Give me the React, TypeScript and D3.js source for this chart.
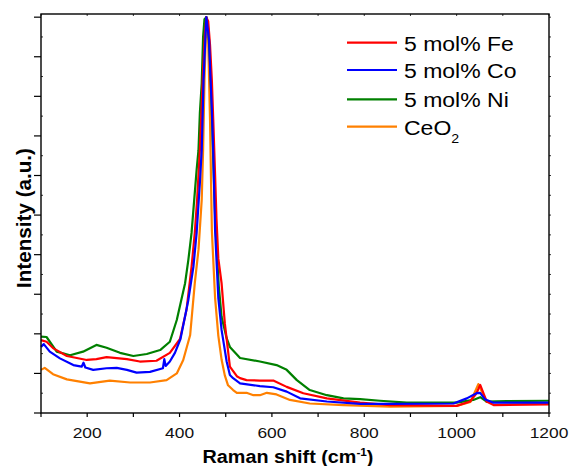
import React from 'react';
import * as d3 from 'd3';

// Raman spectra, intensity normalized so the F2g peak = 10
const fe: [number, number][] = [[100,1.84],[112,1.80],[126,1.64],[156,1.44],[199,1.34],[220,1.36],[242,1.41],[286,1.36],[314,1.30],[350,1.32],[379,1.52],[401,1.87],[415,2.60],[426,3.69],[433,4.55],[438,5.38],[444,6.64],[451,8.66],[455,9.6],[458,10.0],[462,9.9],[466,9.3],[470,8.4],[473,7.4],[477,6.0],[480,4.9],[484,3.9],[491,3.28],[498,2.27],[509,1.17],[524,0.93],[531,0.88],[545,0.83],[574,0.82],[603,0.82],[632,0.66],[668,0.50],[719,0.37],[791,0.26],[856,0.20],[1000,0.18],[1029,0.29],[1043,0.50],[1051,0.71],[1058,0.50],[1065,0.29],[1080,0.20],[1200,0.22]];
const co: [number, number][] = [[100,1.67],[106,1.74],[119,1.55],[141,1.38],[170,1.21],[188,1.17],[192,1.27],[196,1.15],[213,1.09],[242,1.13],[264,1.14],[286,1.09],[307,1.02],[336,1.04],[364,1.13],[367,1.36],[370,1.19],[379,1.30],[390,1.52],[402,1.87],[419,2.85],[430,3.69],[437,4.55],[444,5.81],[448,6.64],[452,8.41],[458,10.0],[464,9.42],[466,8.74],[470,7.65],[473,6.57],[477,4.6],[484,2.9],[491,2.1],[502,1.3],[509,0.96],[516,0.88],[531,0.75],[574,0.68],[603,0.65],[632,0.54],[661,0.37],[719,0.29],[791,0.23],[856,0.23],[993,0.24],[1022,0.37],[1043,0.50],[1051,0.51],[1061,0.35],[1080,0.26],[1200,0.26]];
const ni: [number, number][] = [[100,1.93],[112,1.92],[134,1.55],[163,1.46],[191,1.55],[220,1.72],[242,1.65],[271,1.52],[300,1.44],[329,1.49],[358,1.59],[379,1.80],[394,2.35],[412,3.28],[419,3.86],[426,4.55],[430,5.13],[437,6.14],[441,6.64],[444,7.58],[448,8.33],[451,9.5],[454,9.95],[458,10.0],[462,9.7],[466,8.9],[470,7.6],[473,6.4],[477,5.0],[480,4.2],[485,3.2],[491,2.43],[502,1.89],[509,1.67],[531,1.39],[574,1.30],[610,1.21],[632,1.09],[654,0.83],[682,0.58],[719,0.45],[755,0.37],[791,0.35],[834,0.31],[892,0.26],[1000,0.26],[1036,0.33],[1051,0.40],[1065,0.29],[1108,0.30],[1200,0.31]];
const ceo2: [number, number][] = [[100,1.09],[108,1.14],[126,0.98],[156,0.85],[206,0.75],[249,0.82],[293,0.77],[336,0.77],[372,0.83],[394,1.00],[408,1.34],[423,1.97],[433,3.28],[441,4.12],[448,5.38],[451,6.64],[454,8.41],[458,10.0],[462,9.42],[466,7.40],[470,4.6],[477,2.9],[484,1.95],[491,1.35],[498,0.95],[505,0.70],[516,0.58],[524,0.51],[545,0.51],[560,0.45],[574,0.45],[589,0.51],[610,0.47],[639,0.33],[682,0.24],[755,0.20],[856,0.16],[1000,0.18],[1030,0.28],[1047,0.73],[1055,0.53],[1065,0.28],[1200,0.24]];

const legendNames = ['5 mol% Fe', '5 mol% Co', '5 mol% Ni', 'CeO'];
const xTickLabels = [200, 400, 600, 800, 1000, 1200];

const W = 570, H = 466;
const x = d3.scaleLinear().domain([100, 1200]).range([41, 549]);
const y = d3.scaleLinear().domain([0, 10.08]).range([413, 14]);

const line = d3.line<[number, number]>().x(d => x(d[0])).y(d => y(d[1]));

const series = [
  { data: ceo2, color: '#ff8000' },
  { data: ni, color: '#008000' },
  { data: fe, color: '#ff0000' },
  { data: co, color: '#0000ff' },
];
const legendColors = ['#ff0000', '#0000ff', '#008000', '#ff8000'];

const font = 'Arial, "Liberation Sans", sans-serif';

function Stretch({ tx, ty, sx, children }: { tx: number; ty: number; sx: number; children: React.ReactNode }) {
  return <g transform={`translate(${tx},${ty}) scale(${sx},1)`}>{children}</g>;
}

export default function App() {
  const xt = d3.range(100, 1201, 100);
  const yMajor = d3.range(0, 11, 1);
  const yMinor = d3.range(0.5, 10, 1);
  const [x0, x1] = x.range();
  const [y0, y1] = y.range();

  return (
    <svg width={W} height={H} style={{ position: 'absolute', left: 0, top: 0, background: '#fff' }}>
      <g fill="none" strokeWidth={2.2} strokeLinejoin="round">
        {series.map((s, i) => (
          <path key={i} d={line(s.data) || ''} stroke={s.color} />
        ))}
      </g>

      {/* frame */}
      <rect x={x0} y={y1} width={x1 - x0} height={y0 - y1} fill="none" stroke="#000" strokeWidth={1.4} />

      {/* x ticks */}
      <g stroke="#000" strokeWidth={1.2}>
        {xt.map(t => (
          <line key={'b' + t} x1={x(t)} x2={x(t)} y1={y0} y2={y0 + 4} />
        ))}
        {xt.map(t => (
          <line key={'t' + t} x1={x(t)} x2={x(t)} y1={y1} y2={y1 + 2} strokeWidth={0.8} />
        ))}
        {yMajor.map(t => (
          <line key={'l' + t} x1={x0 - 7} x2={x0} y1={y(t)} y2={y(t)} />
        ))}
        {yMinor.map(t => (
          <line key={'m' + t} x1={x0} x2={x0 + 2} y1={y(t)} y2={y(t)} strokeWidth={0.8} />
        ))}
        {d3.range(0, 10.5, 0.5).map(t => (
          <line key={'r' + t} x1={x1} x2={x1 + 2} y1={y(t)} y2={y(t)} strokeWidth={0.8} />
        ))}
      </g>

      {/* x tick labels */}
      <g fontFamily={font} fontSize={15} fill="#111" textAnchor="middle">
        {xTickLabels.map(t => (
          <Stretch key={t} tx={x(t)} ty={438} sx={1.16}>
            <text>{t}</text>
          </Stretch>
        ))}
      </g>

      {/* axis titles */}
      <Stretch tx={288} ty={462.5} sx={1.07}>
        <text fontFamily={font} fontSize={18.5} fontWeight="bold" textAnchor="middle" fill="#000">
          Raman shift (cm<tspan fontSize={11} dy={-7}>-1</tspan><tspan dy={7}>)</tspan>
        </text>
      </Stretch>
      <text
        transform="translate(31,218) rotate(-90)"
        fontFamily={font}
        fontSize={19.5}
        fontWeight="bold"
        textAnchor="middle"
        textLength={140}
        lengthAdjust="spacingAndGlyphs"
        fill="#000"
      >
        Intensity (a.u.)
      </text>

      {/* legend */}
      <g>
        {legendNames.map((name, i) => {
          const ly = [42.7, 70, 99.3, 126.7][i];
          return (
            <g key={name}>
              <line x1={347} x2={397} y1={ly} y2={ly} stroke={legendColors[i]} strokeWidth={2.2} />
              <Stretch tx={404} ty={ly + 8} sx={1.18}>
                <text fontFamily={font} fontSize={19.5} fill="#000">
                  {name}
                  {i === 3 && <tspan fontSize={12} dy={8}>2</tspan>}
                </text>
              </Stretch>
            </g>
          );
        })}
      </g>
    </svg>
  );
}
